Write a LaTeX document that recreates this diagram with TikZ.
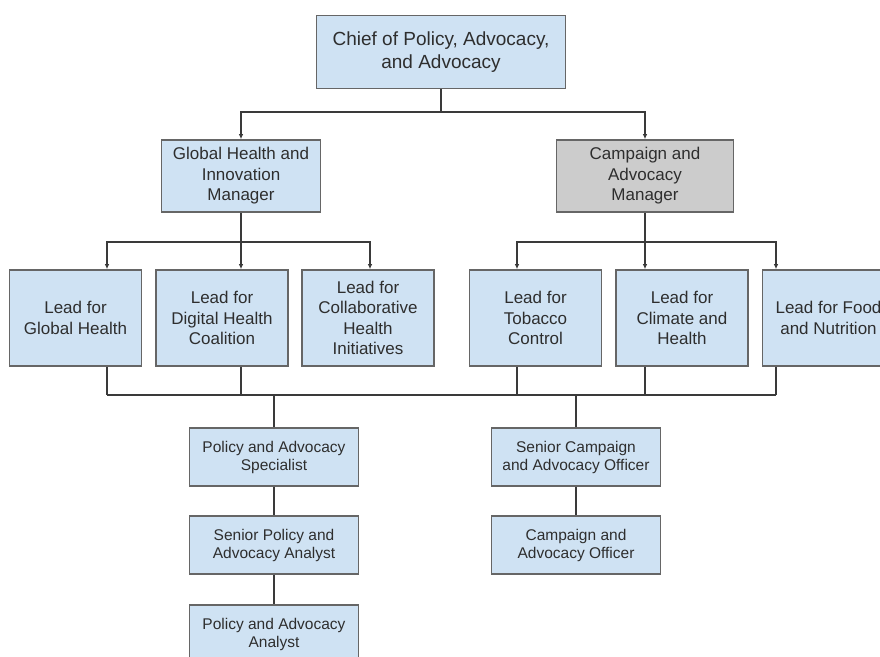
\documentclass[tikz,border=0pt]{standalone}
\usepackage{fontspec}
\setmainfont{Liberation Sans}
\usetikzlibrary{arrows.meta}
\definecolor{boxblue}{HTML}{CFE2F3}
\definecolor{boxgrey}{HTML}{CCCCCC}
\definecolor{edgegrey}{HTML}{666666}
\definecolor{linegrey}{HTML}{3A3A3A}
\definecolor{textgrey}{HTML}{2E2E2E}
\tikzset{   topbox/.style = {draw=edgegrey, fill=boxblue, line width=1.6pt, rectangle, inner sep=0pt, align=center, text=textgrey, minimum height=73pt, minimum width=249pt, font=\fontsize{19}{22.5}\selectfont},
            block/.style = {draw=edgegrey, fill=boxblue, line width=1.6pt, rectangle, inner sep=0pt, align=center, text=textgrey, minimum height=72pt, font=\fontsize{17}{20.5}\selectfont},
            leadbox/.style = {block, minimum height=96pt, minimum width=132pt},
            staffbox/.style = {draw=edgegrey, fill=boxblue, line width=1.6pt, rectangle, inner sep=0pt, align=center, text=textgrey, minimum height=58pt, minimum width=169pt, font=\fontsize{15.5}{18}\selectfont},
            line/.style = {draw=linegrey, line width=1.5pt},
            arr/.style = {line, -{Latex[length=5pt,width=4.5pt]}}}

\begin{document}
\begin{tikzpicture}[x=1pt, y=-1pt]
    \useasboundingbox (0,0) rectangle (880,656);
    \clip (0,0) rectangle (880,656);

    \node[topbox](chief)at(441,52){Chief of Policy, Advocacy,\\and Advocacy};
    \node[block, minimum width=159pt](ghm)at(241,176){Global Health and\\Innovation\\Manager};
    \node[block, fill=boxgrey, minimum width=177pt](cam)at(645,176){Campaign and\\Advocacy\\Manager};
    \coordinate(c1)at(441,112);
    \draw[line](chief.south)--(c1);
    \draw[arr](c1)-|(ghm.north);
    \draw[arr](c1)-|(cam.north);

    \node[leadbox](l1)at(75.5,318){Lead for\\Global Health};
    \node[leadbox](l2)at(222,318){Lead for\\Digital Health\\Coalition};
    \node[leadbox](l3)at(368,318){Lead for\\Collaborative\\Health\\Initiatives};
    \coordinate(c2)at(241,242);
    \draw[line](ghm.south)--(c2);
    \draw[arr](c2)-|([xshift=31.5]l1.north);
    \draw[arr](c2)-|([xshift=19]l2.north);
    \draw[arr](c2)-|([xshift=2]l3.north);

    \node[leadbox](r1)at(535.5,318){Lead for\\Tobacco\\Control};
    \node[leadbox](r2)at(682,318){Lead for\\Climate and\\Health};
    \node[leadbox](r3)at(828.5,318){Lead for Food\\and Nutrition};
    \coordinate(c3)at(645,242);
    \draw[line](cam.south)--(c3);
    \draw[arr](c3)-|([xshift=-18.5]r1.north);
    \draw[arr](c3)-|([xshift=-37]r2.north);
    \draw[arr](c3)-|([xshift=-52.5]r3.north);

    % bus under the leads
    \coordinate(b1)at(107,395);
    \coordinate(b2)at(776,395);
    \draw[line](b1)--(b2);
    \draw[line]([xshift=31.5]l1.south)--(b1);
    \draw[line]([xshift=19]l2.south)--++(0,29);
    \draw[line]([xshift=-18.5]r1.south)--++(0,29);
    \draw[line]([xshift=-37]r2.south)--++(0,29);
    \draw[line]([xshift=-52.5]r3.south)--(b2);

    \node[staffbox](p1)at(274,457){Policy and Advocacy\\Specialist};
    \node[staffbox](p2)at(274,545){Senior Policy and\\Advocacy Analyst};
    \node[staffbox](p3)at(274,634){Policy and Advocacy\\Analyst};
    \node[staffbox](s1)at(576,457){Senior Campaign\\and Advocacy Officer};
    \node[staffbox](s2)at(576,545){Campaign and\\Advocacy Officer};
    \coordinate(c4)at(274,395);
    \coordinate(c5)at(576,395);
    \draw[line](c4)--(p1.north);
    \draw[line](p1.south)--(p2.north);
    \draw[line](p2.south)--(p3.north);
    \draw[line](c5)--(s1.north);
    \draw[line](s1.south)--(s2.north);
\end{tikzpicture}
\end{document}
